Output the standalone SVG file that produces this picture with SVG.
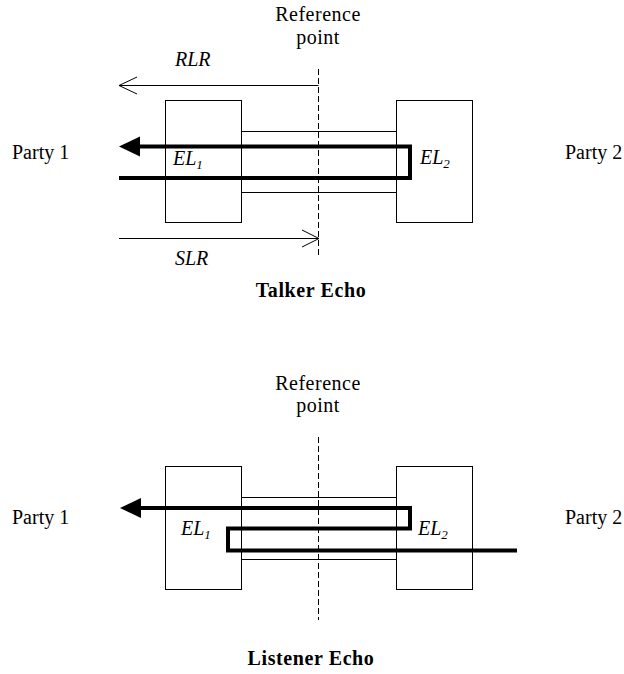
<svg xmlns="http://www.w3.org/2000/svg" width="624" height="674" viewBox="0 0 624 674">
<style>
text{font-family:"Liberation Serif","Times New Roman",serif;font-size:20px;fill:#000}
.it{font-style:italic}
.b{font-weight:bold;letter-spacing:0.6px}
.sub{font-size:13px}
.box{fill:#fff;stroke:#000;stroke-width:1}
.thin{fill:none;stroke:#000;stroke-width:1}
.thick{fill:none;stroke:#000;stroke-width:4;stroke-linejoin:miter;stroke-linecap:butt}
.dash{fill:none;stroke:#000;stroke-width:1;stroke-dasharray:6,3}
.sp{letter-spacing:0.5px}
</style>
<rect width="624" height="674" fill="#fff"/>

<!-- Talker Echo -->
<g id="top-boxes">
  <rect id="top-el1-box" class="box" x="165.5" y="100.5" width="76" height="122"/>
  <rect id="top-el2-box" class="box" x="396.5" y="100.5" width="76" height="122"/>
  <line class="thin" x1="241.5" y1="131.5" x2="396.5" y2="131.5"/>
  <line class="thin" x1="241.5" y1="192.5" x2="396.5" y2="192.5"/>
</g>
<g id="top-connectors">
  <line class="dash" x1="318.5" y1="69" x2="318.5" y2="256"/>
  <line class="thin" x1="119" y1="85.5" x2="318.5" y2="85.5"/>
  <polyline class="thin" points="137,77 119,85.5 137,94"/>
  <line class="thin" x1="119" y1="238.5" x2="319" y2="238.5"/>
  <polyline class="thin" points="302,230 319,238.5 302,247"/>
  <polyline class="thick" points="138,146.5 410,146.5 410,178 119,178"/>
  <polygon points="119,146.5 140,136.5 140,156.5" fill="#000"/>
</g>
<g id="top-labels">
  <text class="sp" x="318" y="21" text-anchor="middle">Reference</text>
  <text class="sp" x="318" y="44" text-anchor="middle">point</text>
  <text class="it" x="175" y="66">RLR</text>
  <text class="it" x="175" y="265">SLR</text>
  <text class="it" x="173" y="165">EL<tspan class="sub" dy="4">1</tspan></text>
  <text class="it" x="420" y="164">EL<tspan class="sub" dy="4">2</tspan></text>
  <text x="12" y="159">Party 1</text>
  <text x="565" y="159">Party 2</text>
  <text class="b" x="311" y="297" text-anchor="middle">Talker Echo</text>
</g>

<!-- Listener Echo -->
<g id="bottom-boxes">
  <rect id="bot-el1-box" class="box" x="165.5" y="466.5" width="76" height="123"/>
  <rect id="bot-el2-box" class="box" x="396.5" y="466.5" width="76" height="123"/>
  <line class="thin" x1="241.5" y1="497.5" x2="396.5" y2="497.5"/>
  <line class="thin" x1="241.5" y1="559.5" x2="396.5" y2="559.5"/>
</g>
<g id="bottom-connectors">
  <line class="dash" x1="318.5" y1="437" x2="318.5" y2="620"/>
  <polyline class="thick" points="139,508 410,508 410,528.5 228,528.5 228,550.5 517,550.5"/>
  <polygon points="120,508 141,498 141,518" fill="#000"/>
</g>
<g id="bottom-labels">
  <text class="sp" x="318" y="390" text-anchor="middle">Reference</text>
  <text class="sp" x="318" y="412" text-anchor="middle">point</text>
  <text class="it" x="181" y="535">EL<tspan class="sub" dy="4">1</tspan></text>
  <text class="it" x="418" y="535">EL<tspan class="sub" dy="4">2</tspan></text>
  <text x="12" y="524">Party 1</text>
  <text x="565" y="524">Party 2</text>
  <text class="b" x="311" y="665" text-anchor="middle">Listener Echo</text>
</g>
</svg>
